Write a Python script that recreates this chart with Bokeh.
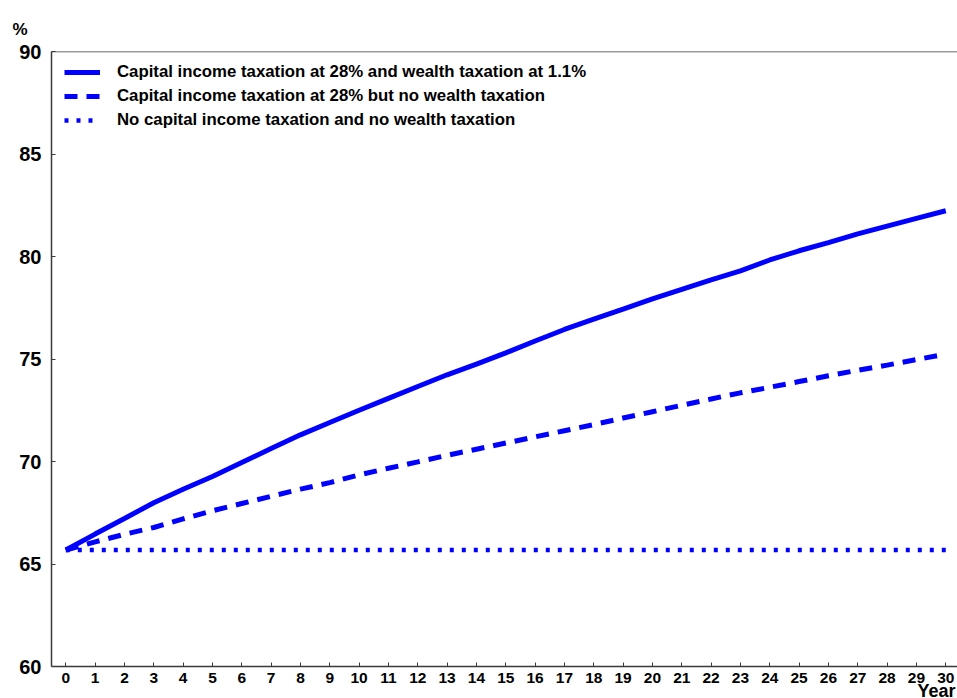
from bokeh.plotting import figure
from bokeh.models import Legend, LegendItem, Span, FixedTicker, Title
from bokeh.embed import file_html
from bokeh.resources import INLINE

years = list(range(0, 31))
with_wealth_tax = [65.68, 66.46, 67.22, 67.99, 68.65, 69.27, 69.95, 70.63, 71.30, 71.90,
                   72.50, 73.08, 73.66, 74.23, 74.75, 75.30, 75.88, 76.44, 76.94, 77.43,
                   77.93, 78.40, 78.86, 79.30, 79.83, 80.28, 80.68, 81.10, 81.48, 81.86,
                   82.23]
no_wealth_tax = [65.68, 66.08, 66.45, 66.78, 67.20, 67.60, 67.95, 68.30, 68.65, 68.97,
                 69.35, 69.67, 69.98, 70.30, 70.60, 70.90, 71.20, 71.50, 71.80, 72.12,
                 72.43, 72.74, 73.05, 73.35, 73.62, 73.90, 74.18, 74.45, 74.70, 74.97,
                 75.24]
no_tax = [65.68] * 31

labels = ["Capital income taxation at 28% and wealth taxation at 1.1%",
          "Capital income taxation at 28% but no wealth taxation",
          "No capital income taxation and no wealth taxation"]
y_ticks = [60, 65, 70, 75, 80, 85, 90]
x_ticks = years

FONT = "Liberation Sans"
AXIS_COLOR = "#3a3a3a"
BLUE = "#0000ff"

p = figure(width=957, height=698, output_backend="svg", toolbar_location=None,
           x_range=(-0.4875, 30.40), y_range=(60, 90),
           min_border_left=51, min_border_right=0, min_border_top=51, min_border_bottom=32)
p.outline_line_color = None
p.xgrid.grid_line_color = None
p.ygrid.grid_line_color = None
p.background_fill_color = "white"

r1 = p.line(years, with_wealth_tax, line_color=BLUE, line_width=5)
r2 = p.line(years, no_wealth_tax, line_color=BLUE, line_width=5, line_dash="13 9")
r3 = p.line(years, no_tax, line_color=BLUE, line_width=4.5, line_dash="4 8")

top = Span(location=90, dimension="width", line_color=AXIS_COLOR, line_width=1.5)
p.add_layout(top)

for ax in (p.xaxis[0], p.yaxis[0]):
    ax.axis_line_color = AXIS_COLOR
    ax.axis_line_width = 1.5
    ax.major_tick_line_color = AXIS_COLOR
    ax.major_tick_line_width = 1
    ax.major_tick_out = 0
    ax.major_tick_in = 4
    ax.minor_tick_line_color = None
    ax.major_label_text_font = FONT
    ax.major_label_text_font_style = "bold"
    ax.major_label_text_color = "black"

p.xaxis[0].ticker = FixedTicker(ticks=x_ticks)
p.xaxis[0].major_label_text_font_size = "15.5px"
p.xaxis[0].major_label_standoff = 6
p.yaxis[0].ticker = FixedTicker(ticks=y_ticks)
p.yaxis[0].major_label_text_font_size = "20px"
p.yaxis[0].major_label_standoff = 10

legend = Legend(items=[LegendItem(label=labels[0], renderers=[r1]),
                       LegendItem(label=labels[1], renderers=[r2]),
                       LegendItem(label=labels[2], renderers=[r3])],
                margin=0, padding=0, spacing=0,
                glyph_width=36, glyph_height=24, label_height=24, label_standoff=17,
                label_text_font=FONT, label_text_font_style="bold",
                label_text_font_size="16.8px", label_text_color="black",
                border_line_color=None, background_fill_alpha=0)
legend.location = (13, 615 - 9 - 72)
p.add_layout(legend)

p.add_layout(Title(text="%", align="left", offset=-39, standoff=26,
                   text_font=FONT, text_font_style="bold", text_font_size="17px",
                   text_color="black"), "above")
p.add_layout(Title(text="Year", align="left", offset=866, standoff=-14,
                   text_font=FONT, text_font_style="bold", text_font_size="18px",
                   text_color="black"), "below")

open("out.html", "w").write(file_html(p, INLINE))
